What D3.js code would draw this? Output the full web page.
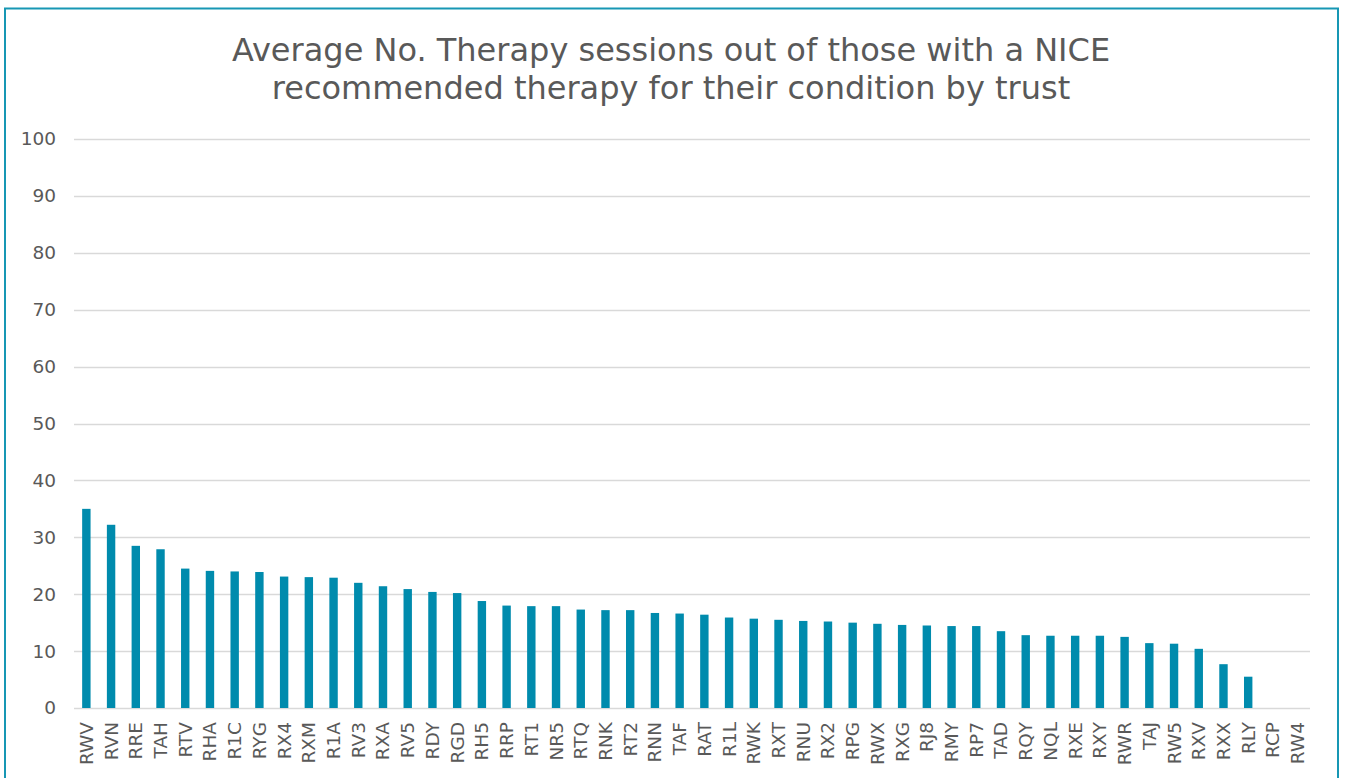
<!DOCTYPE html>
<html>
<head>
<meta charset="utf-8">
<script src="https://cdn.jsdelivr.net/npm/d3@7"></script>
<style>
  body { margin: 0; background: #fff; }
  text { font-family: "DejaVu Sans", Verdana, sans-serif; fill: #595959; }
</style>
</head>
<body>
<svg width="1346" height="778"></svg>
<script>
// trusts, sorted as in the chart
var trusts = ["RWV","RVN","RRE","TAH","RTV","RHA","R1C","RYG","RX4","RXM",
              "R1A","RV3","RXA","RV5","RDY","RGD","RH5","RRP","RT1","NR5",
              "RTQ","RNK","RT2","RNN","TAF","RAT","R1L","RWK","RXT","RNU",
              "RX2","RPG","RWX","RXG","RJ8","RMY","RP7","TAD","RQY","NQL",
              "RXE","RXY","RWR","TAJ","RW5","RXV","RXX","RLY","RCP","RW4"]

// average number of sessions
var sessions = [35.0, 32.2, 28.5, 27.9, 24.5, 24.1, 24.0, 23.9, 23.1, 23.0,
                22.9, 22.0, 21.4, 20.9, 20.4, 20.2, 18.8, 18.0, 17.9, 17.9,
                17.3, 17.2, 17.2, 16.7, 16.6, 16.4, 15.9, 15.7, 15.5, 15.3,
                15.2, 15.0, 14.8, 14.6, 14.5, 14.4, 14.4, 13.5, 12.8, 12.7,
                12.7, 12.7, 12.5, 11.4, 11.3, 10.4, 7.7, 5.5, 0, 0]

var yTicks = [0, 10, 20, 30, 40, 50, 60, 70, 80, 90, 100]

var titleLines = ["Average No. Therapy sessions out of those with a NICE",
                  "recommended therapy for their condition by trust"]

var data = trusts.map(function (t, i) { return {trust: t, value: sessions[i]} })

var svg = d3.select("svg"),
    width = +svg.attr("width"),
    height = +svg.attr("height");

// chart frame
svg.append("rect")
    .attr("x", 5)
    .attr("y", 8.5)
    .attr("width", 1333)
    .attr("height", 800)
    .attr("fill", "none")
    .attr("stroke", "#1797B4")
    .attr("stroke-width", 2);

var plotLeft = 74, plotRight = 1310, plotTop = 139, plotBottom = 708;

var x = d3.scaleBand()
    .domain(trusts)
    .range([plotLeft, plotRight])
    .paddingInner(0.66)
    .paddingOuter(0.33);

var y = d3.scaleLinear()
    .domain([0, 100])
    .range([plotBottom, plotTop]);

// gridlines
svg.append("g")
    .attr("class", "grid")
    .selectAll("line")
    .data(yTicks)
    .enter().append("line")
    .attr("x1", plotLeft)
    .attr("x2", plotRight)
    .attr("y1", function (d) { return Math.round(y(d)) + 0.5 })
    .attr("y2", function (d) { return Math.round(y(d)) + 0.5 })
    .attr("stroke", "#d9d9d9")
    .attr("stroke-width", 1.5);

// y labels
svg.append("g")
    .selectAll("text")
    .data(yTicks)
    .enter().append("text")
    .attr("x", 56)
    .attr("y", function (d) { return y(d) })
    .attr("dy", "0.35em")
    .attr("text-anchor", "end")
    .style("font-size", "18.5px")
    .text(function (d) { return d });

// bars
svg.append("g")
    .selectAll("rect")
    .data(data)
    .enter().append("rect")
    .attr("x", function (d) { return x(d.trust) })
    .attr("width", x.bandwidth())
    .attr("y", function (d) { return y(d.value) })
    .attr("height", function (d) { return y(0) - y(d.value) })
    .attr("fill", "#008BAD");

// x labels, rotated
svg.append("g")
    .selectAll("text")
    .data(trusts)
    .enter().append("text")
    .attr("transform", function (d) {
        return "translate(" + (x(d) + x.bandwidth() / 2) + "," + (plotBottom + 14) + ") rotate(-90)"
    })
    .attr("dy", "0.35em")
    .attr("text-anchor", "end")
    .style("font-size", "18.5px")
    .text(function (d) { return d });

// title
svg.append("text")
    .attr("x", 671)
    .attr("y", 50)
    .attr("text-anchor", "middle")
    .style("font-size", "32px")
    .selectAll("tspan")
    .data(titleLines)
    .enter().append("tspan")
    .attr("x", 671)
    .attr("dy", function (d, i) { return i == 0 ? "0.35em" : "38px" })
    .text(function (d) { return d });
</script>
</body>
</html>
